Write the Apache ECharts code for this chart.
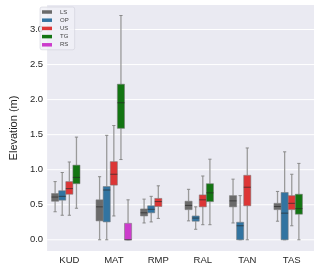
<!DOCTYPE html>
<html>
<head>
<meta charset="utf-8">
<script src="https://cdn.jsdelivr.net/npm/echarts@6/dist/echarts.min.js"></script>
<style>html,body{margin:0;padding:0;background:#fff}#c{width:320px;height:265px}</style>
</head>
<body>
<div id="c"></div>
<script>
// Categories and hue groups
const categories = ['KUD', 'MAT', 'RMP', 'RAL', 'TAN', 'TAS'];
const hues = ['LS', 'OP', 'US', 'TG', 'RS'];
// Each row: [categoryIndex, whiskerLow, Q1, median, Q3, whiskerHigh]
const LS = [
  [0, 0.40, 0.55, 0.61, 0.66, 0.83],
  [1, 0.00, 0.27, 0.47, 0.57, 0.90],
  [2, 0.24, 0.34, 0.385, 0.44, 0.58],
  [3, 0.27, 0.43, 0.49, 0.55, 0.72],
  [4, 0.24, 0.47, 0.555, 0.63, 0.865],
  [5, 0.265, 0.43, 0.475, 0.52, 0.69]
];
const OP = [
  [0, 0.35, 0.565, 0.62, 0.70, 0.96],
  [1, 0.00, 0.255, 0.71, 0.76, 1.49],
  [2, 0.255, 0.385, 0.435, 0.485, 0.62],
  [3, 0.15, 0.265, 0.31, 0.34, 0.47],
  [4, 0.00, 0.00, 0.20, 0.25, 0.63],
  [5, 0.00, 0.00, 0.38, 0.675, 1.255]
];
const US = [
  [0, 0.35, 0.65, 0.73, 0.83, 1.11],
  [1, 0.34, 0.78, 0.935, 1.115, 1.63],
  [2, 0.305, 0.475, 0.545, 0.59, 0.77],
  [3, 0.215, 0.47, 0.57, 0.64, 0.91],
  [4, 0.00, 0.485, 0.75, 0.92, 1.31],
  [5, 0.20, 0.43, 0.52, 0.63, 0.935]
];
const TG = [
  [0, 0.45, 0.80, 0.89, 1.065, 1.465],
  [1, 1.145, 1.59, 1.955, 2.22, 3.20],
  [3, 0.215, 0.545, 0.67, 0.80, 1.15],
  [5, 0.00, 0.365, 0.445, 0.65, 1.09]
];
const RS = [
  [1, 0.00, 0.00, 0.00, 0.235, 0.57]
];
const yTicks = [0.0, 0.5, 1.0, 1.5, 2.0, 2.5, 3.0];

const hueData = [LS, OP, US, TG, RS];
const hueColors = ['#6b6b6b', '#3274a1', '#dd3636', '#137513', '#cc3ccc'];

function makeRender(hi) {
  return function (params, api) {
    const ci = api.value(0);
    const lo = api.value(1), q1 = api.value(2), md = api.value(3), q3 = api.value(4), hi2 = api.value(5);
    const bw = api.size([1, 0])[0];
    const slot = bw * 0.8 / hues.length;
    const cx = api.coord([ci, 0])[0] + (hi - (hues.length - 1) / 2) * slot;
    const w = slot;
    const yLo = api.coord([ci, lo])[1];
    const yQ1 = api.coord([ci, q1])[1];
    const yMd = api.coord([ci, md])[1];
    const yQ3 = api.coord([ci, q3])[1];
    const yHi = api.coord([ci, hi2])[1];
    const capW = slot * 0.45;
    const wStyle = { stroke: '#9a9a9a', lineWidth: 1.3 };
    const cStyle = { stroke: '#8a8a8a', lineWidth: 1 };
    return {
      type: 'group',
      children: [
        { type: 'line', shape: { x1: cx, y1: yQ3, x2: cx, y2: yHi }, style: wStyle },
        { type: 'line', shape: { x1: cx, y1: yQ1, x2: cx, y2: yLo }, style: wStyle },
        { type: 'line', shape: { x1: cx - capW / 2, y1: yHi, x2: cx + capW / 2, y2: yHi }, style: cStyle },
        { type: 'line', shape: { x1: cx - capW / 2, y1: yLo, x2: cx + capW / 2, y2: yLo }, style: cStyle },
        { type: 'rect', shape: { x: cx - w / 2, y: yQ3, width: w, height: Math.max(yQ1 - yQ3, 0.5) },
          style: { fill: hueColors[hi], stroke: 'rgba(120,120,120,0.9)', lineWidth: 0.6 } },
        { type: 'line', shape: { x1: cx - w / 2, y1: yMd, x2: cx + w / 2, y2: yMd },
          style: { stroke: 'rgba(40,40,40,0.75)', lineWidth: 0.9 } }
      ]
    };
  };
}

// white horizontal grid lines at tick values (drawn beneath the boxes)
const series = [{
  name: 'grid',
  type: 'custom',
  silent: true,
  z: 1,
  encode: { x: 0, y: 1 },
  data: yTicks.map(function (t) { return [0, t]; }),
  renderItem: function (params, api) {
    const cs = params.coordSys;
    const y = api.coord([0, api.value(1)])[1];
    return { type: 'line', shape: { x1: cs.x, y1: y, x2: cs.x + cs.width, y2: y },
      style: { stroke: '#ffffff', lineWidth: 1 } };
  }
}];
hues.forEach(function (h, i) {
  series.push({
    name: h,
    type: 'custom',
    renderItem: makeRender(i),
    itemStyle: { color: hueColors[i] },
    encode: { x: 0, y: [1, 2, 3, 4, 5] },
    data: hueData[i],
    z: 3
  });
});

const chart = echarts.init(document.getElementById('c'), null, { renderer: 'canvas' });
chart.setOption({
  animation: false,
  textStyle: { fontFamily: 'Liberation Sans, Arial, sans-serif' },
  grid: { left: 39, right: 6, top: 5, bottom: 13, show: true, backgroundColor: '#eaeaf2', borderWidth: 0 },
  legend: {
    data: hues,
    orient: 'vertical',
    left: 40, top: 7,
    icon: 'rect',
    itemWidth: 10, itemHeight: 3.5,
    itemGap: 2.2,
    padding: [2, 6, 2, 2],
    z: 10,
    backgroundColor: 'rgba(240,240,246,0.8)',
    borderColor: 'rgba(205,205,215,0.9)', borderWidth: 0.6, borderRadius: 2,
    textStyle: { fontSize: 6, color: '#444', lineHeight: 6, padding: [0, 0, 0, 3] }
  },
  xAxis: {
    type: 'category',
    data: categories,
    axisLine: { show: false },
    axisTick: { show: false },
    splitLine: { show: false },
    axisLabel: { fontSize: 9.5, color: '#262626', margin: 4 }
  },
  yAxis: {
    type: 'value',
    min: -0.16, max: 3.35,
    name: 'Elevation (m)',
    nameLocation: 'middle',
    nameGap: 25,
    nameTextStyle: { fontSize: 11, color: '#262626' },
    axisLine: { show: false },
    axisTick: { show: false },
    splitLine: { show: false },
    axisLabel: {
      fontSize: 9.5, color: '#262626', margin: 4,
      customValues: yTicks,
      formatter: function (v) {
        for (let t of yTicks) { if (Math.abs(v - t) < 1e-6) return t.toFixed(1); }
        return '';
      }
    }
  },
  series: series
});
</script>
</body>
</html>
